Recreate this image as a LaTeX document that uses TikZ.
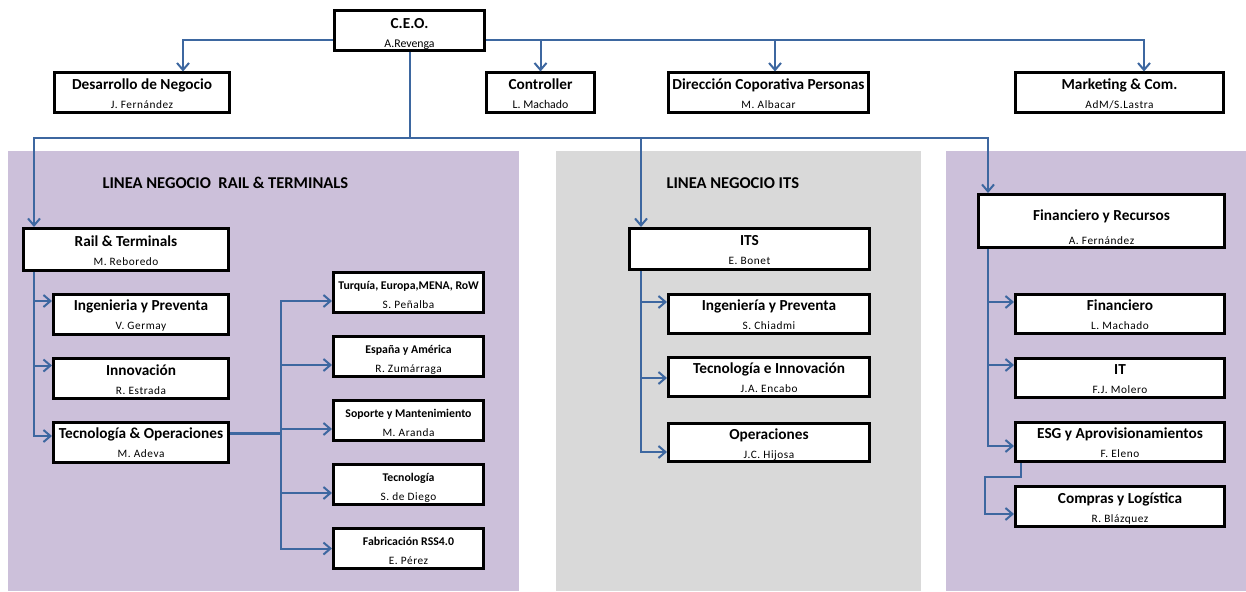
\documentclass[tikz,border=0pt]{standalone}
\usepackage{fontspec}
\setmainfont{Carlito}
\newfontfamily\namefont[LetterSpace=5]{Carlito}
\usepackage{tikz}
\usetikzlibrary{arrows.meta}

\definecolor{LinkBlue}{RGB}{61,103,160}
\definecolor{PanelLila}{RGB}{204,192,218}
\definecolor{PanelGris}{RGB}{217,217,217}

\newcommand*{\ttl}[1]{{\bfseries\fontsize{15.3}{19}\selectfont #1}}
\newcommand*{\sttl}[1]{{\bfseries\fontsize{11.8}{19}\selectfont #1}}
\newcommand*{\nm}[1]{{\namefont\fontsize{11.3}{19}\selectfont #1}}
\newcommand*{\nmplain}[1]{{\fontsize{11.8}{19}\selectfont #1}}

\begin{document}
\begin{tikzpicture}[x=1pt,y=-1pt]
		\tikzstyle{orgbox}=[draw=black,
								  line width=3pt,
								  fill=white,
								  align=center,
								  inner sep=0pt,
								  text height=32pt,
								  text depth=1pt,
								  font=\fontsize{10}{19}\selectfont]
		\tikzstyle{wbox}=[orgbox,minimum width=175pt,minimum height=40pt]
		\tikzstyle{sbox}=[orgbox,minimum width=150pt,minimum height=40pt]
		\tikzstyle{conn}=[draw=LinkBlue,line width=2pt]
		\tikzstyle{arr}=[conn,-{Straight Barb[length=7pt,width=12pt]}]
		\tikzstyle{paneltitle}=[anchor=west,font=\bfseries\fontsize{16.5}{18}\selectfont]

\useasboundingbox (0,0) rectangle (1246,591);

% Panels
\fill[PanelLila] (8,151) rectangle (519,591);
\fill[PanelGris] (556,151) rectangle (921,591);
\fill[PanelLila] (946,151) rectangle (1246,591);

% Top level
\node [orgbox,minimum width=150pt,minimum height=40pt,text height=35pt] at (409.5,30.5) (ceo) {\ttl{C.E.O.}\\ \nmplain{A.Revenga}};
\node [wbox] at (142,93) (desarrollo) {\ttl{Desarrollo de Negocio}\\ \nm{J. Fernández}};
\node [orgbox,minimum width=108pt,minimum height=40pt] at (540.5,93) (controller) {\ttl{Controller}\\ \nmplain{L. Machado}};
\node [orgbox,minimum width=200pt,minimum height=40pt] at (768.5,93) (direccion) {\ttl{Dirección Coporativa Personas}\\ \nm{M. Albacar}};
\node [orgbox,minimum width=208pt,minimum height=40pt] at (1119.5,93) (marketing) {\ttl{Marketing \& Com.}\\ \nm{AdM/S.Lastra}};

% Rail & Terminals
\node [paneltitle] at (99,183) (railtitle) {LINEA NEGOCIO\ \ RAIL \& TERMINALS};
\node [orgbox,minimum width=205pt,minimum height=42pt] at (126,249.5) (rail) {\ttl{Rail \& Terminals}\\ \nm{M. Reboredo}};
\node [wbox] at (141,314) (ingrail) {\ttl{Ingenieria y Preventa}\\ \nm{V. Germay}};
\node [wbox] at (141,378.5) (innov) {\ttl{Innovación}\\ \nm{R. Estrada}};
\node [wbox] at (141,442) (tecop) {\ttl{Tecnología \& Operaciones}\\ \nm{M. Adeva}};
\node [sbox] at (408.5,292.5) (turquia) {\sttl{Turquía, Europa,MENA, RoW}\\ \nm{S. Peñalba}};
\node [sbox] at (408.5,356.5) (espana) {\sttl{España y América}\\ \nm{R. Zumárraga}};
\node [sbox] at (408.5,420.5) (soporte) {\sttl{Soporte y Mantenimiento}\\ \nm{M. Aranda}};
\node [sbox] at (408.5,484.5) (tecno) {\sttl{Tecnología}\\ \nm{S. de Diego}};
\node [sbox] at (408.5,548.5) (fabric) {\sttl{Fabricación RSS4.0}\\ \nm{E. Pérez}};

% ITS
\node [paneltitle] at (663,183) (itstitle) {LINEA NEGOCIO ITS};
\node [orgbox,minimum width=240pt,minimum height=41pt] at (749.5,249) (its) {\ttl{ITS}\\ \nm{E. Bonet}};
\node [orgbox,minimum width=201pt,minimum height=39pt] at (769,314) (ingits) {\ttl{Ingeniería y Preventa}\\ \nm{S. Chiadmi}};
\node [orgbox,minimum width=201pt,minimum height=39pt] at (769,377) (tecinn) {\ttl{Tecnología e Innovación}\\ \nm{J.A. Encabo}};
\node [orgbox,minimum width=201pt,minimum height=38pt] at (769,442.5) (operac) {\ttl{Operaciones}\\ \nm{J.C. Hijosa}};

% Financiero
\node [orgbox,minimum width=246pt,minimum height=53pt,text height=48pt] at (1101.5,221) (finrec) {\ttl{Financiero y Recursos}\\[5pt] \nm{A. Fernández}};
\node [orgbox,minimum width=209pt,minimum height=39pt] at (1120,314) (financiero) {\ttl{Financiero}\\ \nm{L. Machado}};
\node [orgbox,minimum width=209pt,minimum height=39pt] at (1120,378) (it) {\ttl{IT}\\ \nm{F.J. Molero}};
\node [orgbox,minimum width=209pt,minimum height=39pt] at (1120,442) (esg) {\ttl{ESG y Aprovisionamientos}\\ \nm{F. Eleno}};
\node [orgbox,minimum width=209pt,minimum height=40pt] at (1120,506.5) (compras) {\ttl{Compras y Logística}\\ \nm{R. Blázquez}};

% CEO links
\coordinate (topbusl) at ([yshift=-9.5pt]ceo.west);
\coordinate (topbusr) at ([yshift=-9.5pt]ceo.east);
\coordinate (desin) at ([xshift=41pt]desarrollo.north);
\coordinate (dirin) at ([xshift=6.5pt]direccion.north);
\coordinate (mktin) at ([xshift=24.5pt]marketing.north);
\draw[arr] (topbusl) -| (desin);
\draw[arr] (topbusr) -| (mktin);
\draw[arr] (topbusr -| controller.north) -- (controller.north);
\draw[arr] (topbusr -| dirin) -- (dirin);

\coordinate (midbus) at ([yshift=-86pt]ceo.south);
\coordinate (railin) at ([xshift=-92pt]rail.north);
\coordinate (itsin) at ([xshift=-108.5pt]its.north);
\coordinate (finin) at ([xshift=-113.5pt]finrec.north);
\draw[conn] (ceo.south) -- (midbus);
\draw[arr] (midbus) -| (railin);
\draw[arr] (midbus) -| (itsin);
\draw[arr] (midbus) -| (finin);

% Rail links
\coordinate (railout) at ([xshift=-92pt]rail.south);
\draw[arr] (railout) |- ([yshift=13pt]ingrail.west);
\draw[arr] (railout) |- ([yshift=13pt]innov.west);
\draw[arr] (railout) |- ([yshift=6pt]tecop.west);

\coordinate (tecbus) at ([xshift=51pt,yshift=9pt]tecop.east);
\draw[conn,line width=3pt] ([yshift=9pt]tecop.east) -- (tecbus);
\draw[arr] (tecbus) |- ([yshift=-8.5pt]turquia.west);
\draw[arr] (tecbus) |- ([yshift=-8.5pt]espana.west);
\draw[arr] (tecbus) |- ([yshift=-8.5pt]soporte.west);
\draw[arr] (tecbus) |- ([yshift=-8.5pt]tecno.west);
\draw[arr] (tecbus) |- (fabric.west);

% ITS links
\coordinate (itsout) at ([xshift=-108.5pt]its.south);
\draw[arr] (itsout) |- ([yshift=12pt]ingits.west);
\draw[arr] (itsout) |- ([yshift=-1pt]tecinn.west);
\draw[arr] (itsout) |- ([yshift=-9.5pt]operac.west);

% Financiero links
\coordinate (finout) at ([xshift=-113.5pt]finrec.south);
\draw[arr] (finout) |- ([yshift=12pt]financiero.west);
\draw[arr] (finout) |- ([yshift=13pt]it.west);
\draw[arr] (finout) |- ([yshift=-4pt]esg.west);
\draw[arr] ([xshift=-99pt]esg.south) -- ++(0,14) -- ++(-36,0) |- ([yshift=-7.5pt]compras.west);

\end{tikzpicture}
\end{document}
